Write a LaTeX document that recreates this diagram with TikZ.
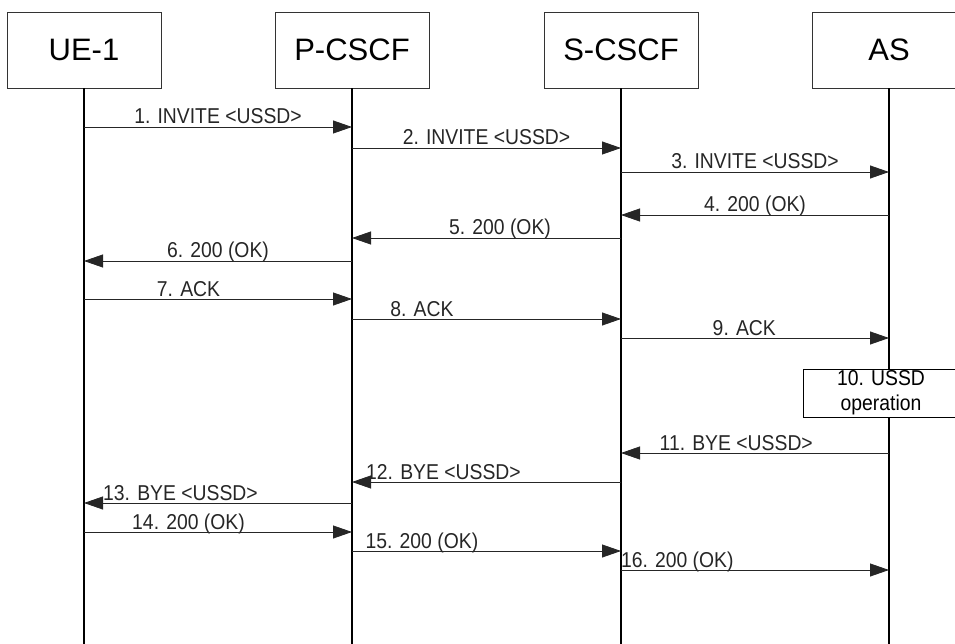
\documentclass[tikz,border=0pt]{standalone}
\usepackage{fontspec}
\setmainfont{Liberation Sans}
\newfontfamily\lblfont[FakeStretch=0.9]{Liberation Sans}
\usepackage{tikz}
\usetikzlibrary{arrows.meta, positioning}
\tikzset{
  entity/.style={
    rectangle, draw=black!80, fill=white, line width=0.8pt,
    minimum width=154pt, minimum height=76pt,
    align=center, font=\fontsize{31}{37}\selectfont},
  action/.style={
    rectangle, draw=black, fill=white, line width=1pt,
    minimum width=156pt, minimum height=48pt, inner sep=1pt,
    align=center, font=\lblfont\fontsize{21.5}{25}\selectfont},
  life/.style={line width=1.3pt, black},
  msg/.style={-{Triangle[length=19pt, width=13pt]}, line width=0.8pt, black!85},
  lbl/.style={anchor=base, yshift=3pt, inner sep=0pt,
    font=\lblfont\fontsize{21.5}{25}\selectfont},
}

\begin{document}
\begin{tikzpicture}[x=1pt, y=-1pt]
  \useasboundingbox (0,0) rectangle (955,644);
  \clip (0,0) rectangle (955,644);
  \coordinate (bottom) at (0,644);
  % entities
  \node[entity] (ue) at (84,50) {UE-1};
  \node[entity] (pcscf) at (352,50) {P-CSCF};
  \node[entity] (scscf) at (621,50) {S-CSCF};
  \node[entity] (app) at (889,50) {AS};
  % lifelines
  \draw[life] (ue) -- (ue |- bottom);
  \draw[life] (pcscf) -- (pcscf |- bottom);
  \draw[life] (scscf) -- (scscf |- bottom);
  \draw[life] (app) -- (app |- bottom);
  % session set-up
  \draw[msg] (ue |- 0,127) -- node[lbl, pos=.5]{1. INVITE <USSD>} (pcscf |- 0,127);
  \draw[msg] (pcscf |- 0,148) -- node[lbl, pos=.5]{2. INVITE <USSD>} (scscf |- 0,148);
  \draw[msg] (scscf |- 0,172) -- node[lbl, pos=.5]{3. INVITE <USSD>} (app |- 0,172);
  \draw[msg] (app |- 0,215) -- node[lbl, pos=.5]{4. 200 (OK)} (scscf |- 0,215);
  \draw[msg] (scscf |- 0,238) -- node[lbl, pos=.45]{5. 200 (OK)} (pcscf |- 0,238);
  \draw[msg] (pcscf |- 0,261) -- node[lbl, pos=.5]{6. 200 (OK)} (ue |- 0,261);
  \draw[msg] (ue |- 0,299) -- node[lbl, pos=.39]{7. ACK} (pcscf |- 0,299);
  \draw[msg] (pcscf |- 0,319) -- node[lbl, pos=.26]{8. ACK} (scscf |- 0,319);
  \draw[msg] (scscf |- 0,338) -- node[lbl, pos=.46]{9. ACK} (app |- 0,338);
  % USSD handling in AS
  \node[action] (ussd) at (881,393) {10. USSD\\operation};
  % session release
  \draw[msg] (app |- 0,453) -- node[lbl, pos=.57]{11. BYE <USSD>} (scscf |- 0,453);
  \draw[msg] (scscf |- 0,482) -- node[lbl, pos=.66]{12. BYE <USSD>} (pcscf |- 0,482);
  \draw[msg] (pcscf |- 0,503) -- node[lbl, pos=.64]{13. BYE <USSD>} (ue |- 0,503);
  \draw[msg] (ue |- 0,532) -- node[lbl, pos=.39]{14. 200 (OK)} (pcscf |- 0,532);
  \draw[msg] (pcscf |- 0,551) -- node[lbl, pos=.26]{15. 200 (OK)} (scscf |- 0,551);
  \draw[msg] (scscf |- 0,570) -- node[lbl, pos=.21]{16. 200 (OK)} (app |- 0,570);
\end{tikzpicture}
\end{document}
